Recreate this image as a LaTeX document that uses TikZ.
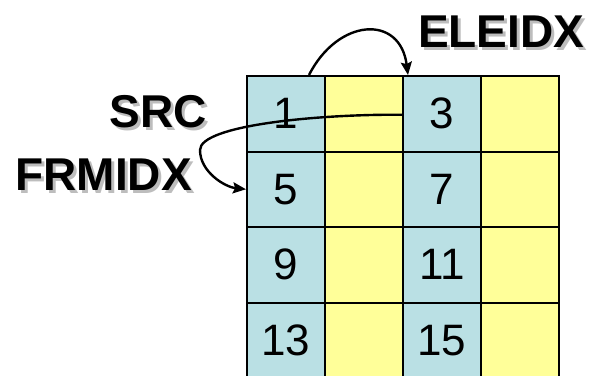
\documentclass[tikz,border=0pt]{standalone}
\usepackage{fontspec}
\setmainfont{Liberation Sans}
\usetikzlibrary{arrows.meta}
\definecolor{cellblue}{HTML}{BAE0E4}
\definecolor{cellyellow}{HTML}{FFFF99}
\definecolor{shadowgray}{HTML}{BDBDBD}
\tikzset{
  cell/.style={draw=black, line width=2pt, minimum width=78pt, minimum height=75.5pt,
    inner sep=0pt, font=\fontsize{44}{44}\selectfont},
  bluecell/.style={cell, fill=cellblue},
  yellowcell/.style={cell, fill=cellyellow},
  lbl/.style={inner sep=0pt, font=\fontsize{46}{46}\selectfont\bfseries},
  lblshadow/.style={lbl, text=shadowgray},
  arr/.style={line width=2.4pt, -{Stealth[length=13pt,width=11pt,inset=2pt]}}
}
\begin{document}
\begin{tikzpicture}[x=1pt,y=-1pt]
\useasboundingbox (0,0) rectangle (594,375);
% 4x4 grid of cells, columns alternate blue/yellow
\begin{scope}
\clip (0,0) rectangle (594,375);
\foreach \r in {0,...,3}{
  \foreach \c in {0,...,3}{
    \pgfmathtruncatemacro{\num}{4*\r+\c+1}
    \pgfmathtruncatemacro{\odd}{mod(\c,2)}
    \ifnum\odd=0
      \node[bluecell] (c\c\r) at ({247+78*\c+39},{76+75.5*\r+37.75}) {\num};
    \else
      \node[yellowcell] (c\c\r) at ({247+78*\c+39},{76+75.5*\r+37.75}) {};
    \fi
  }
}
\end{scope}
% labels with grey drop shadows
\node[lblshadow, anchor=base east] (srcS) at (210,130) {SRC};
\node[lbl, anchor=base east] (src) at (207,127) {SRC};
\node[lblshadow, anchor=base east] (frmS) at (195,193) {FRMIDX};
\node[lbl, anchor=base east] (frm) at (192,190) {FRMIDX};
\node[lblshadow, anchor=base west] (eleS) at (421,50) {ELEIDX};
\node[lbl, anchor=base west] (ele) at (418,47) {ELEIDX};
% element step: cell 1 to cell 3
\draw[arr] ([xshift=63pt]c00.north west) .. controls (338,18) and (400,14) .. ([xshift=6pt]c20.north west);
% frame step: cell 3 back to cell 5
\coordinate (turn) at (200,150);
\draw[arr] ([yshift=-1pt]c20.west) .. controls (320,114) and (200,125) .. (turn)
  .. controls (200,172) and (225,187) .. (c01.west);
\end{tikzpicture}
\end{document}
